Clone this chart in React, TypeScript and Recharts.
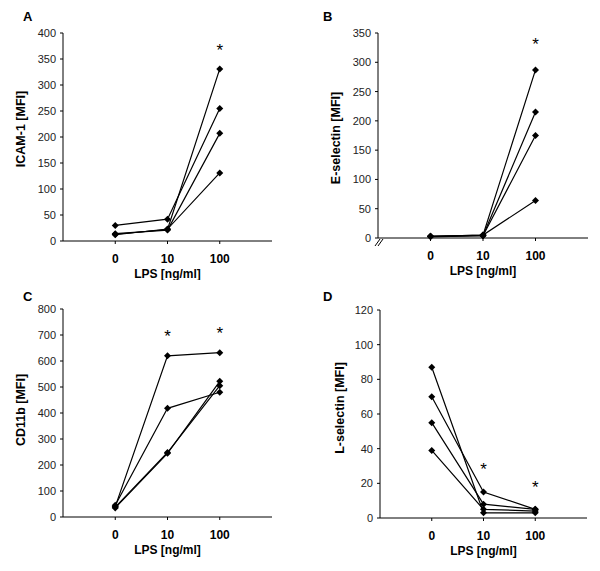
import React from "react";
import { ComposedChart, Line, Scatter, XAxis, YAxis, Label } from "recharts";

const DOSES = ["0", "10", "100"];

// one array per donor, values at 0 / 10 / 100 ng/ml LPS
const ICAM1 = [
  [30, 42, 255],
  [13, 22, 331],
  [14, 21, 207],
  [12, 23, 131],
];
const E_SELECTIN = [
  [3, 5, 287],
  [3, 4, 215],
  [2, 4, 175],
  [3, 5, 64],
];
const CD11B = [
  [40, 620, 632],
  [45, 418, 480],
  [35, 245, 522],
  [38, 248, 505],
];
const L_SELECTIN = [
  [87, 3, 3],
  [70, 15, 5],
  [55, 8, 5],
  [39, 5, 4],
];

// significance markers: dose index + height
const STARS_A = [{ dose: 2, value: 374 }];
const STARS_B = [{ dose: 2, value: 336 }];
const STARS_C = [{ dose: 1, value: 708 }, { dose: 2, value: 720 }];
const STARS_D = [{ dose: 1, value: 30 }, { dose: 2, value: 19.5 }];

const TICKS_A = [0, 50, 100, 150, 200, 250, 300, 350, 400];
const TICKS_B = [0, 50, 100, 150, 200, 250, 300, 350];
const TICKS_C = [0, 100, 200, 300, 400, 500, 600, 700, 800];
const TICKS_D = [0, 20, 40, 60, 80, 100, 120];

const FONT = "'Liberation Sans', Arial, sans-serif";

const Diamond = (props: any) => {
  const { cx, cy } = props;
  if (cx == null || cy == null) return null;
  const r = 3.5;
  return <path d={`M${cx},${cy - r}L${cx + r},${cy}L${cx},${cy + r}L${cx - r},${cy}Z`} fill="#000" />;
};

const Star = (props: any) => {
  const { cx, cy } = props;
  return (
    <text x={cx} y={cy + 9} textAnchor="middle" fontFamily={FONT} fontSize={17} fill="#000">
      *
    </text>
  );
};

const makeYTick = (withBreak: boolean) => (props: any) => {
  const { x, y, payload } = props;
  const ax = x + 7;
  return (
    <g>
      <text x={x} y={y} dy={4} textAnchor="end" fontFamily={FONT} fontSize={11} fill="#222">
        {payload.value}
      </text>
      {withBreak && payload.value === 0 && (
        <g stroke="#000" strokeWidth={1}>
          <line x1={ax - 3} y1={y + 8} x2={ax + 2} y2={y + 1} />
          <line x1={ax} y1={y + 8} x2={ax + 5} y2={y + 1} />
        </g>
      )}
    </g>
  );
};

type PanelCfg = {
  letter: string;
  title: string;
  series: number[][];
  stars: { dose: number; value: number }[];
  ticks: number[];
  left: number;
  top: number;
  width: number;
  height: number;
  margin: { top: number; right: number; left: number; bottom: number };
  titleX: number;
  titleY: number;
  brokenAxis?: boolean;
};

const PANELS: PanelCfg[] = [
  {
    letter: "A", title: "ICAM-1 [MFI]", series: ICAM1, stars: STARS_A, ticks: TICKS_A,
    left: 0, top: 0, width: 300, height: 280,
    margin: { top: 33, right: 28, left: 23, bottom: 0 }, titleX: 21, titleY: 129,
  },
  {
    letter: "B", title: "E-selectin [MFI]", series: E_SELECTIN, stars: STARS_B, ticks: TICKS_B,
    left: 300, top: 0, width: 300, height: 280,
    margin: { top: 33, right: 12, left: 38, bottom: 3 }, titleX: 36, titleY: 138, brokenAxis: true,
  },
  {
    letter: "C", title: "CD11b [MFI]", series: CD11B, stars: STARS_C, ticks: TICKS_C,
    left: 0, top: 280, width: 300, height: 291,
    margin: { top: 29, right: 28, left: 23, bottom: 15 }, titleX: 21, titleY: 130,
  },
  {
    letter: "D", title: "L-selectin [MFI]", series: L_SELECTIN, stars: STARS_D, ticks: TICKS_D,
    left: 300, top: 280, width: 300, height: 291,
    margin: { top: 30, right: 13, left: 40, bottom: 14 }, titleX: 40, titleY: 128,
  },
];

const Panel = ({ cfg }: { cfg: PanelCfg }) => {
  const rows = DOSES.map((d, i) => {
    const row: any = { x: i + 1 };
    cfg.series.forEach((s, k) => (row[`s${k}`] = s[i]));
    return row;
  });
  const starData = cfg.stars.map((s) => ({ x: s.dose + 1, star: s.value }));
  const yMax = cfg.ticks[cfg.ticks.length - 1];

  return (
    <div style={{ position: "absolute", left: cfg.left, top: cfg.top, width: cfg.width, height: cfg.height }}>
      <div
        style={{
          position: "absolute", left: 23, top: 9, fontFamily: FONT, fontWeight: "bold", fontSize: 13, color: "#000",
        }}
      >
        {cfg.letter}
      </div>
      <ComposedChart
        width={cfg.width}
        height={cfg.height}
        data={rows}
        margin={cfg.margin}
        style={{ overflow: "visible" }}
      >
        <XAxis
          type="number"
          dataKey="x"
          domain={[0, 4]}
          ticks={[1, 2, 3]}
          tickFormatter={(v: number) => DOSES[v - 1]}
          height={39}
          tickSize={3}
          tickMargin={10}
          axisLine={{ stroke: "#000" }}
          tickLine={{ stroke: "#000" }}
          tick={{ fontFamily: FONT, fontSize: 12, fontWeight: "bold", fill: "#000" }}
        >
          <Label
            value="LPS [ng/ml]"
            position="insideBottom"
            offset={2}
            style={{ fontFamily: FONT, fontSize: 12, fontWeight: "bold", fill: "#000" }}
          />
        </XAxis>
        <YAxis
          type="number"
          width={40}
          domain={[0, yMax]}
          ticks={cfg.ticks}
          interval={0}
          tickSize={3}
          tickMargin={4}
          tickLine={{ stroke: "#000" }}
          axisLine={{ stroke: "#000" }}
          tick={makeYTick(!!cfg.brokenAxis)}
        >
          <Label
            content={() => (
              <text
                x={cfg.titleX}
                y={cfg.titleY}
                transform={`rotate(-90 ${cfg.titleX} ${cfg.titleY})`}
                textAnchor="middle"
                dominantBaseline="central"
                fontFamily={FONT}
                fontSize={12.5}
                fontWeight="bold"
                fill="#000"
              >
                {cfg.title}
              </text>
            )}
          />
        </YAxis>
        {cfg.series.map((_, k) => (
          <Line
            key={k}
            type="linear"
            dataKey={`s${k}`}
            stroke="#000"
            strokeWidth={1.2}
            dot={<Diamond />}
            activeDot={false}
            isAnimationActive={false}
          />
        ))}
        <Scatter data={starData} dataKey="star" shape={<Star />} isAnimationActive={false} />
      </ComposedChart>
    </div>
  );
}

export default function App() {
  return (
    <div style={{ position: "absolute", left: 0, top: 0, width: 600, height: 571, background: "#fff" }}>
      {PANELS.map((p) => (
        <Panel key={p.letter} cfg={p} />
      ))}
    </div>
  );
}
